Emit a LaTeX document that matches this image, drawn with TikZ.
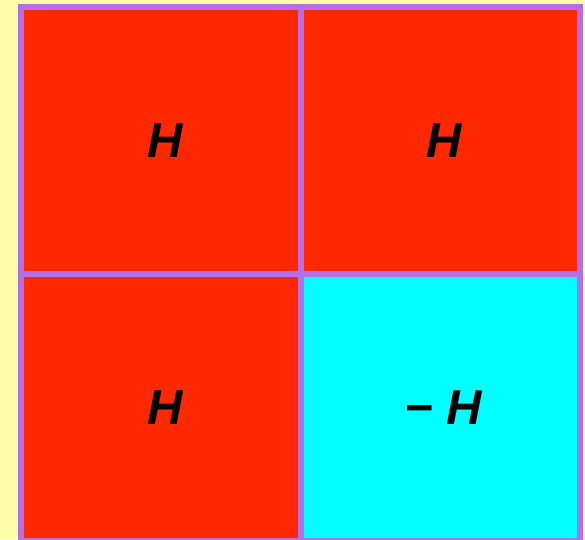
\documentclass[tikz,border=0pt]{standalone}
\usepackage{fontspec}
\setmainfont{Liberation Sans}
\usetikzlibrary{positioning}

\definecolor{paleyellow}{RGB}{255,253,170}
\definecolor{gridpurple}{RGB}{180,110,230}
\definecolor{blockred}{RGB}{255,40,0}
\definecolor{blockcyan}{RGB}{0,255,255}

\begin{document}
\begin{tikzpicture}[
        x = 1pt, y = 1pt,
        node distance = 0pt,
        block/.style = {rectangle, draw = gridpurple, line width = 6pt,
                        inner sep = 0pt, outer sep = 0pt,
                        minimum width = 279.5pt, minimum height = 267pt},
        entry/.style = {inner sep = 0pt, xshift = 4pt,
                        font = \fontsize{49}{49}\selectfont\bfseries\itshape}
    ]

      \fill[paleyellow] (0,0) rectangle (585,539);
      \useasboundingbox (0,0) rectangle (585,539);

      \node[block, fill = blockred] (h_tl) at (160.75,398.5) {};
      \node[block, fill = blockred] (h_tr) [right = of h_tl] {};
      \node[block, fill = blockred] (h_bl) [below = of h_tl] {};
      \node[block, fill = blockcyan] (h_br) [below = of h_tr] {};

      \node[entry] (t_tl) at (h_tl) {H};
      \node[entry] (t_tr) at (h_tr) {H};
      \node[entry] (t_bl) at (h_bl) {H};
      \node[entry, xshift = -1pt] (t_br) at (h_br) {− H};

    \end{tikzpicture}
\end{document}
